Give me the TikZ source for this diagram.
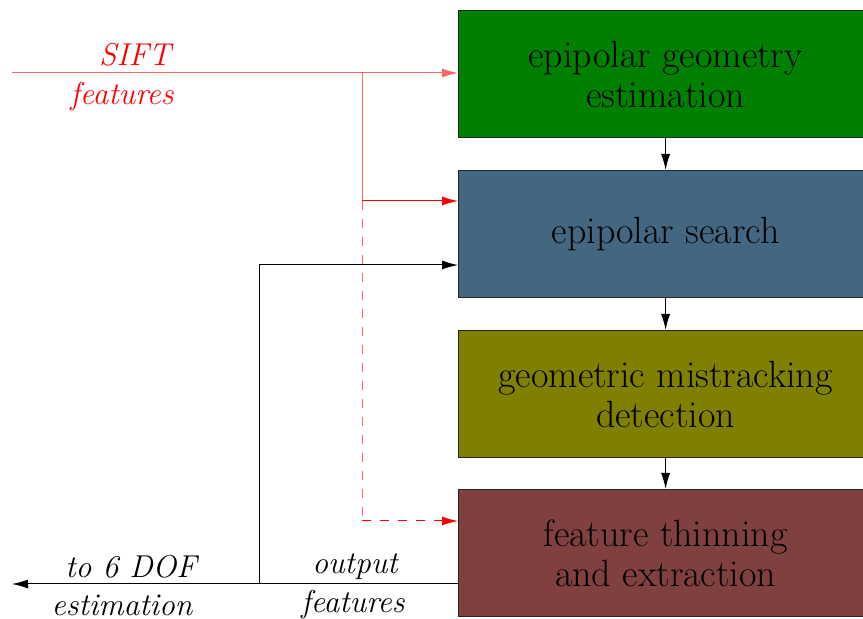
\documentclass[tikz,border=0pt]{standalone}
\usetikzlibrary{arrows.meta}
\definecolor{boxgreen}{RGB}{0,128,0}
\definecolor{boxblue}{RGB}{67,103,128}
\definecolor{boxolive}{RGB}{128,128,0}
\definecolor{boxbrown}{RGB}{128,64,64}
\definecolor{linered}{RGB}{255,0,0}
\begin{document}
\begin{tikzpicture}[x=0.5pt,y=-0.5pt,
  stage/.style={draw=black!85,line width=0.6pt,minimum width=207pt,minimum height=63.5pt,inner sep=0pt,align=center,font=\fontsize{19}{20}\selectfont,anchor=north west},
  lbl/.style={font=\fontsize{15.8}{18}\selectfont\itshape},
  redline/.style={linered!60,line width=0.5pt},
  tip/.style={-{Latex[length=8pt,width=4.5pt]}},
  blk/.style={black,line width=0.5pt}]
\useasboundingbox (0,0) rectangle (863,619);
\node[stage,fill=boxgreen] (b1) at (458,10) {epipolar geometry\\estimation};
\node[stage,fill=boxblue] (b2) at (458,170) {epipolar search};
\node[stage,fill=boxolive] (b3) at (458,330) {geometric mistracking\\detection};
\node[stage,fill=boxbrown] (b4) at (458,489) {feature thinning\\and extraction};
\coordinate (in) at (12,73);
\coordinate (sp) at (362,73);
\coordinate (s2) at (362,201);
\coordinate (s4) at (362,521);
\coordinate (out) at (12,584);
\coordinate (fb) at (259,584);
\coordinate (fb2) at (259,265);
% red inputs
\draw[redline] (in) -- (sp);
\draw[tip,draw=linered!60,fill=linered,line width=0.5pt] (sp) -- (b1.west |- sp);
\draw[redline] (sp) -- (s2);
\draw[tip,linered,line width=0.5pt] (s2) -- (b2.west |- s2);
\draw[redline,dash pattern=on 4.5pt off 4.5pt] (s2) -- (s4);
\draw[tip,linered,line width=0.5pt,dash pattern=on 4.5pt off 4.5pt] (s4) -- (b4.west |- s4);
\node[lbl,text=linered] (t1) at (135,55) {SIFT};
\node[lbl,text=linered] (t2) at (122,97) {features};
% vertical flow
\draw[blk,tip] (b1) -- (b2);
\draw[blk,tip] (b2) -- (b3);
\draw[blk,tip] (b3) -- (b4);
% output
\draw[blk,tip] (b4.west |- out) -- (out);
\draw[blk,tip] (fb) -- (fb2) -- (b2.west |- fb2);
\node[lbl] (t3) at (131,567) {to 6 DOF};
\node[lbl] (t4) at (122,605) {estimation};
\node[lbl] (t5) at (355,567) {output};
\node[lbl] (t6) at (353,605) {features};
\end{tikzpicture}
\end{document}
